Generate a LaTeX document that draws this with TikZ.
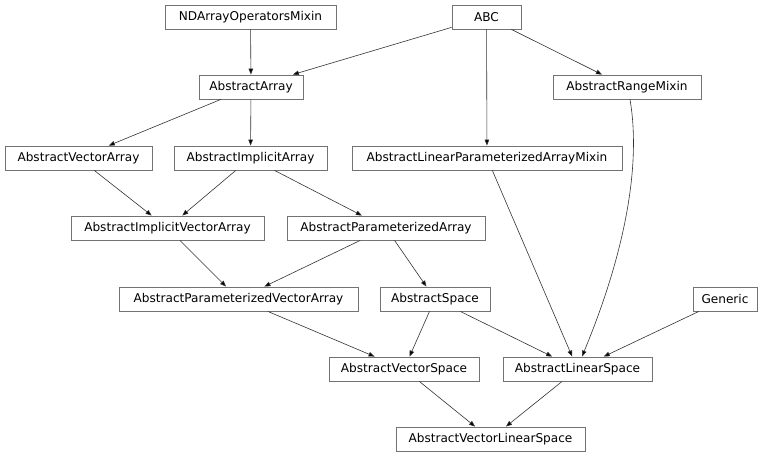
\documentclass[tikz,border=0pt]{standalone}
\usepackage{fontspec}
\setmainfont{DejaVu Sans}
\usetikzlibrary{arrows.meta}
\begin{document}
\begin{tikzpicture}[x=1pt,y=1pt,
  cls/.style={draw=black!55, line width=0.9pt, fill=white, minimum height=24pt, inner xsep=0pt, inner ysep=0pt,
    font=\fontsize{12.1pt}{14pt}\selectfont, text=black},
  inh/.style={draw=black!80, line width=0.6pt, -{Triangle[length=6pt,width=4.6pt,fill=black]}}]
\useasboundingbox[fill=white] (0,0) rectangle (768,-457);
\node[cls, minimum width=171pt] (nd) at (250.5,-17) {NDArrayOperatorsMixin};
\node[cls, minimum width=69pt] (abc) at (486.5,-17) {ABC};
\node[cls, minimum width=104pt] (aa) at (251,-87) {AbstractArray};
\node[cls, minimum width=148pt] (arm) at (627,-87) {AbstractRangeMixin};
\node[cls, minimum width=147pt] (ava) at (78.5,-158) {AbstractVectorArray};
\node[cls, minimum width=153pt] (aia) at (250.5,-158) {AbstractImplicitArray};
\node[cls, minimum width=270pt] (alpam) at (487,-158) {AbstractLinearParameterizedArrayMixin};
\node[cls, minimum width=193pt] (aiva) at (167.5,-228) {AbstractImplicitVectorArray};
\node[cls, minimum width=198pt] (apa) at (386,-228) {AbstractParameterizedArray};
\node[cls, minimum width=239pt] (apva) at (238.5,-299) {AbstractParameterizedVectorArray};
\node[cls, minimum width=110pt] (as) at (435,-299) {AbstractSpace};
\node[cls, minimum width=64pt] (gen) at (725,-299) {Generic};
\node[cls, minimum width=150pt] (avs) at (404,-369) {AbstractVectorSpace};
\node[cls, minimum width=149pt] (als) at (577.5,-369) {AbstractLinearSpace};
\node[cls, minimum width=189pt] (avls) at (490.5,-439) {AbstractVectorLinearSpace};

\draw[inh] (nd) -- (aa);
\draw[inh] (abc) -- (aa);
\draw[inh] (abc) -- (alpam);
\draw[inh] (abc) -- (arm);
\draw[inh] (aa) -- (ava);
\draw[inh] (aa) -- (aia);
\draw[inh] (ava) -- (aiva);
\draw[inh] (aia) -- (aiva);
\draw[inh] (aia) -- (apa);
\draw[inh] (aiva) -- (apva);
\draw[inh] (apa) -- (apva);
\draw[inh] (apa) -- (as);
\draw[inh] (alpam) -- (als);
\draw[inh] ([xshift=3pt]arm.south) .. controls (642,-170) and (622,-260) .. ([xshift=4.5pt]als.north);
\draw[inh] (as) -- (avs);
\draw[inh] (as) -- (als);
\draw[inh] (gen) -- (als);
\draw[inh] (apva) -- (avs);
\draw[inh] (avs) -- (avls);
\draw[inh] (als) -- (avls);
\end{tikzpicture}
\end{document}
